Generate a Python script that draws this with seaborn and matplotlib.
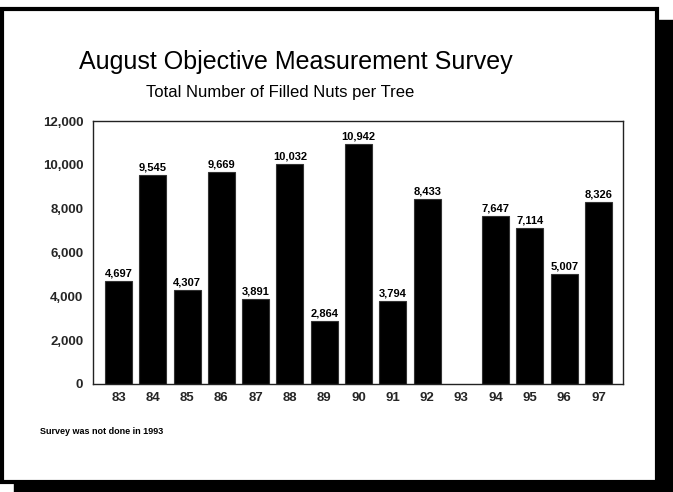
import numpy as np
import pandas as pd
import matplotlib
matplotlib.use("Agg")
import matplotlib.pyplot as plt
from matplotlib.patches import Rectangle
import seaborn as sns

years = ["83", "84", "85", "86", "87", "88", "89", "90", "91", "92", "93", "94", "95", "96", "97"]
nuts = [4697, 9545, 4307, 9669, 3891, 10032, 2864, 10942, 3794, 8433, np.nan, 7647, 7114, 5007, 8326]
yticks = [0, 2000, 4000, 6000, 8000, 10000, 12000]
title = "August Objective Measurement Survey"
subtitle = "Total Number of Filled Nuts per Tree"
note = "Survey was not done in 1993"

sns.set_theme(style="white")
plt.rcParams["font.family"] = ["Liberation Sans", "DejaVu Sans"]

W, H = 673, 492
fig = plt.figure(figsize=(W / 100, H / 100), dpi=100)
fig.patch.set_facecolor("white")

def fx(x):
    return x / W

def fy(y):
    return 1 - y / H

# shadow and frame
fig.patches.append(Rectangle((fx(14), fy(492)), fx(673 - 14), (492 - 480) / H,
                             transform=fig.transFigure, color="black", zorder=0))
fig.patches.append(Rectangle((fx(656), fy(492)), fx(673 - 656), (492 - 20) / H,
                             transform=fig.transFigure, color="black", zorder=0))
fig.patches.append(Rectangle((fx(1.5), fy(482)), fx(657 - 1.5), (482 - 8.5) / H,
                             transform=fig.transFigure, facecolor="white",
                             edgecolor="black", linewidth=3, zorder=1))

ax = fig.add_axes([fx(93), fy(384), fx(623 - 93), (384 - 121) / H])
ax.set_zorder(2)
df = pd.DataFrame({"year": years, "nuts": nuts})
sns.barplot(data=df, x="year", y="nuts", color="black", width=0.79,
            edgecolor="#333333", linewidth=0.8, saturation=1, ax=ax, errorbar=None)

for bar in ax.patches:
    v = bar.get_height()
    if not np.isfinite(v) or v <= 0:
        continue
    ax.text(bar.get_x() + bar.get_width() / 2, v + 110, f"{int(round(v)):,}",
            ha="center", va="bottom", fontsize=8, fontweight="bold", color="black")

ax.set_ylim(0, 12000)
ax.set_xlim(-0.744, len(years) - 1 + 0.714)
ax.set_yticks(yticks)
ax.set_yticklabels([f"{t:,}" for t in yticks], fontsize=9.5, fontweight="bold")
ax.tick_params(axis="x", labelsize=9.5, length=0, pad=6)
ax.tick_params(axis="y", length=0, pad=7)
for lab in ax.get_xticklabels():
    lab.set_fontweight("bold")
ax.set_xlabel("")
ax.set_ylabel("")
for s in ax.spines.values():
    s.set_visible(True)
    s.set_color("#222222")
    s.set_linewidth(1.0)

fig.text(fx(296), fy(62), title, ha="center", va="center", fontsize=18, color="black")
fig.text(fx(280), fy(92), subtitle, ha="center", va="center", fontsize=12, color="black")
fig.text(fx(40), fy(432), note, ha="left", va="center", fontsize=6.5, fontweight="bold", color="black")

fig.savefig("out.png", dpi=100)
